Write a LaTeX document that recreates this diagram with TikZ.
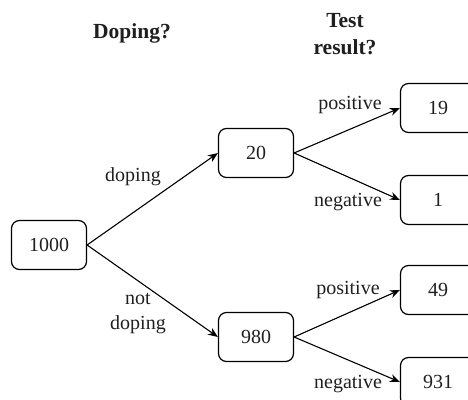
\documentclass[tikz,border=0pt]{standalone}
\usepackage{fontspec}
\setmainfont{Liberation Serif}
\usetikzlibrary{arrows.meta}
\begin{document}
\begin{tikzpicture}[x=1pt,y=-1pt,
  every node/.style={font=\fontsize{20}{23}\selectfont, text=black!88},
  countbox/.style={draw, rounded corners=8pt, line width=1.2pt,
    minimum width=75pt, minimum height=49pt, inner sep=0pt},
  branch/.style={line width=1.1pt, -{Stealth[length=10pt,width=8pt]}},
  lbl/.style={inner sep=1pt},
  head/.style={font=\fontsize{21.5}{27}\selectfont\bfseries, align=center}]
  \useasboundingbox (0,0) rectangle (468,399);

  % column headings
  \node[head] (h1) at (132,33) {Doping?};
  \node[head] (h2) at (345,34) {Test\\result?};

  % counts
  \node[countbox] (root) at (49,245) {1000};
  \node[countbox] (dop)  at (256,153) {20};
  \node[countbox] (nod)  at (256,337) {980};
  \node[countbox] (dp)   at (438,108) {19};
  \node[countbox] (dn)   at (438,200) {1};
  \node[countbox] (np)   at (438,290) {49};
  \node[countbox] (nn)   at (438,382) {931};

  % branches
  \draw[branch] (root.east) -- (dop.west);
  \draw[branch] (root.east) -- (nod.west);
  \draw[branch] (dop.east) -- (dp.west);
  \draw[branch] (dop.east) -- (dn.west);
  \draw[branch] (nod.east) -- (np.west);
  \draw[branch] (nod.east) -- (nn.west);

  % branch labels
  \node[lbl] (l1) at (133,177) {doping};
  \node[lbl, align=center, font=\fontsize{20}{25}\selectfont] (l2) at (138,314) {not\\doping};
  \node[lbl] (l3) at (350,105) {positive};
  \node[lbl] (l4) at (348,202) {negative};
  \node[lbl] (l5) at (348,290) {positive};
  \node[lbl] (l6) at (348,384) {negative};
\end{tikzpicture}
\end{document}
